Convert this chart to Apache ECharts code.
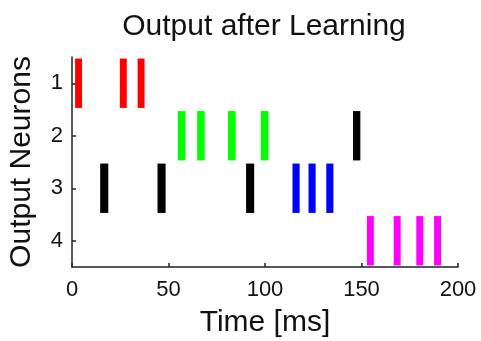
<!DOCTYPE html>
<html>
<head>
<meta charset="utf-8">
<script src="https://cdn.jsdelivr.net/npm/echarts@6/dist/echarts.min.js"></script>
<style>html,body{margin:0;padding:0;background:#fff}#c{width:481px;height:341px}</style>
</head>
<body>
<div id="c"></div>
<script>
// Neuron categories (y axis, top to bottom)
const neurons = ['1', '2', '3', '4'];
// x tick values
const xTicks = [0, 50, 100, 150, 200];
// Spike times [ms]
const redSpikesN1 = [3.4, 26.6, 35.8];
const greenSpikesN2 = [56.8, 66.8, 82.8, 99.8];
const blackSpikesN2 = [147.5];
const blackSpikesN3 = [16.7, 46.4, 92.3];
const blueSpikesN3 = [116.1, 124.4, 133.6];
const magentaSpikesN4 = [154.6, 168.5, 180.2, 189.4];

const FONT = 'Liberation Sans, Arial, Helvetica, sans-serif';

function toData(times, neuron) {
  return times.map(t => [t, neurons.indexOf(neuron)]);
}

function spikeRender(widthMs) {
  return function (params, api) {
    const c = api.coord([api.value(0), api.value(1)]);
    const band = api.size([0, 1])[1];
    const w = api.size([widthMs, 0])[0];
    const h = band * 0.94;
    return {
      type: 'rect',
      shape: { x: c[0] - w / 2, y: c[1] - h / 2, width: w, height: h },
      style: { fill: api.visual('color') }
    };
  };
}

function spikeSeries(times, neuron, color, widthMs) {
  return {
    type: 'custom',
    renderItem: spikeRender(widthMs),
    data: toData(times, neuron),
    itemStyle: { color: color },
    encode: { x: 0, y: 1 },
    clip: false,
    silent: true
  };
}

const chart = echarts.init(document.getElementById('c'), null, { renderer: 'canvas' });
chart.setOption({
  animation: false,
  backgroundColor: '#fff',
  title: {
    text: 'Output after Learning',
    left: 259,
    textAlign: 'center',
    top: 7,
    textStyle: { fontFamily: FONT, fontSize: 30, fontWeight: 'normal', color: '#111' }
  },
  grid: { left: 72, right: 23, top: 57, bottom: 74, containLabel: false, outerBoundsMode: 'none' },
  xAxis: {
    type: 'value',
    min: xTicks[0],
    max: xTicks[xTicks.length - 1],
    interval: 50,
    name: 'Time [ms]',
    nameLocation: 'middle',
    nameGap: 41,
    nameTextStyle: { fontFamily: FONT, fontSize: 30, color: '#111' },
    axisLine: { show: true, lineStyle: { color: '#222', width: 1.5 } },
    axisTick: { show: true, inside: true, length: 4, lineStyle: { color: '#222', width: 1.5 } },
    axisLabel: { fontFamily: FONT, fontSize: 22, color: '#111', margin: 12 },
    splitLine: { show: false }
  },
  yAxis: {
    type: 'category',
    data: neurons,
    inverse: true,
    boundaryGap: true,
    name: 'Output Neurons',
    nameLocation: 'middle',
    nameGap: 35,
    nameTextStyle: { fontFamily: FONT, fontSize: 30, color: '#111' },
    axisLine: { show: true, lineStyle: { color: '#222', width: 1.5 } },
    axisTick: { show: true, inside: true, alignWithLabel: true, length: 4, lineStyle: { color: '#222', width: 1.5 } },
    axisLabel: { fontFamily: FONT, fontSize: 22, color: '#111', margin: 9 },
    splitLine: { show: false }
  },
  series: [
    spikeSeries(redSpikesN1, '1', '#ff0000', 3.6),
    spikeSeries(greenSpikesN2, '2', '#00ff00', 3.9),
    spikeSeries(blackSpikesN2, '2', '#000000', 3.8),
    spikeSeries(blackSpikesN3, '3', '#000000', 4.2),
    spikeSeries(blueSpikesN3, '3', '#0000ff', 3.7),
    spikeSeries(magentaSpikesN4, '4', '#ff00ff', 3.6)
  ]
});
</script>
</body>
</html>
